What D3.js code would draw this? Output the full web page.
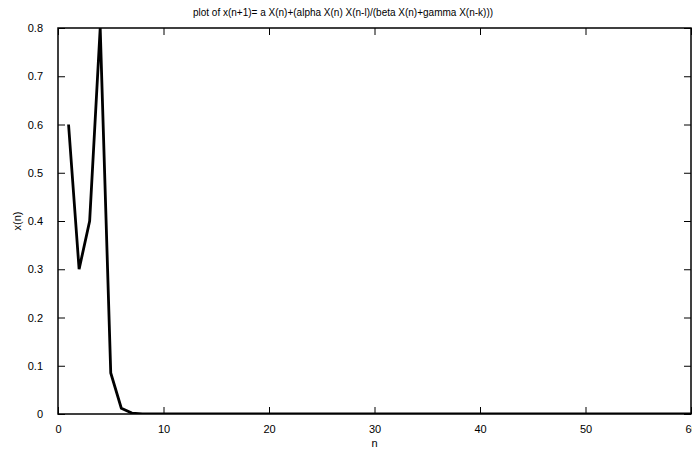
<!DOCTYPE html>
<html>
<head>
<meta charset="utf-8">
<script src="https://cdn.jsdelivr.net/npm/d3@7"></script>
<style>
  body { margin: 0; background: #fff; }
  text { font-family: "Liberation Sans", Arial, sans-serif; font-size: 11px; fill: #000; }
</style>
</head>
<body>
<div id="chart"></div>
<script>
var WIDTH = 692, HEIGHT = 450;
var MARGIN = { TOP: 28, RIGHT: 1, BOTTOM: 36, LEFT: 58 };

// sequence values
var nValues = [1, 2, 3, 4, 5, 6, 7, 8, 9, 10, 15, 20, 30, 40, 50, 60];
var xValues = [0.6, 0.3, 0.4, 0.8, 0.085, 0.012, 0.002, 0.0004, 0.0001, 0, 0, 0, 0, 0, 0, 0];
var xTicks = [0, 10, 20, 30, 40, 50, 60];
var yTicks = [0, 0.1, 0.2, 0.3, 0.4, 0.5, 0.6, 0.7, 0.8];

var data = nValues.map(function(n, i) { return { n: n, x: xValues[i] }; });

var w = WIDTH - MARGIN.LEFT - MARGIN.RIGHT;
var h = HEIGHT - MARGIN.TOP - MARGIN.BOTTOM;

var svg = d3.select("#chart").append("svg")
    .attr("width", WIDTH)
    .attr("height", HEIGHT);

var g = svg.append("g")
    .attr("transform", "translate(" + MARGIN.LEFT + "," + MARGIN.TOP + ")");

var x = d3.scaleLinear().domain([0, 60]).range([0, w]);
var y = d3.scaleLinear().domain([0, 0.8]).range([h, 0]);

// ticks mirrored on all four sides, pointing inward
function ticks(axis, transform) {
    var a = g.append("g").attr("transform", transform).call(axis);
    a.select(".domain").remove();
    a.selectAll("line").attr("stroke", "#000").attr("stroke-width", 1);
    return a;
}

var bottom = ticks(d3.axisBottom(x).tickValues(xTicks).tickSize(-7).tickPadding(11).tickFormat(d3.format("d")), "translate(0," + h + ")");
bottom.selectAll("text").style("font-size", "11px").attr("font-family", null);
ticks(d3.axisTop(x).tickValues(xTicks).tickSize(-7).tickFormat(""), "translate(0,0)");
var left = ticks(d3.axisLeft(y).tickValues(yTicks).tickSize(-7).tickPadding(15).tickFormat(function(d) { return d === 0 ? "0" : d3.format(".1f")(d); }), "translate(0,0)");
left.selectAll("text").style("font-size", "11px").attr("font-family", null);
ticks(d3.axisRight(y).tickValues(yTicks).tickSize(-7).tickFormat(""), "translate(" + w + ",0)");

g.append("rect")
    .attr("width", w)
    .attr("height", h)
    .attr("fill", "none")
    .attr("stroke", "#000")
    .attr("stroke-width", 1.5);

g.append("clipPath").attr("id", "clip")
    .append("rect").attr("x", -2).attr("y", -2).attr("width", w + 2).attr("height", h + 2);

var line = d3.line()
    .x(function(d) { return x(d.n); })
    .y(function(d) { return y(d.x); });

g.append("path")
    .datum(data)
    .attr("clip-path", "url(#clip)")
    .attr("d", line)
    .attr("fill", "none")
    .attr("stroke", "#000")
    .attr("stroke-width", 2.8)
    .attr("stroke-linejoin", "miter");

svg.append("text")
    .attr("x", 343)
    .attr("y", 16)
    .attr("text-anchor", "middle")
    .style("font-size", "10px")
    .text("plot of x(n+1)= a X(n)+(alpha X(n) X(n-l)/(beta X(n)+gamma X(n-k)))");

svg.append("text")
    .attr("x", MARGIN.LEFT + w / 2)
    .attr("y", 447)
    .attr("text-anchor", "middle")
    .text("n");

svg.append("text")
    .attr("transform", "translate(21," + (MARGIN.TOP + h / 2) + ") rotate(-90)")
    .attr("text-anchor", "middle")
    .text("x(n)");
</script>
</body>
</html>
